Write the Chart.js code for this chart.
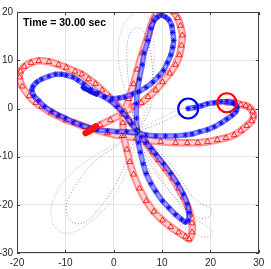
<!DOCTYPE html>
<html>
<head>
<meta charset="utf-8">
<script src="https://cdn.jsdelivr.net/npm/chart.js@4.4.0/dist/chart.umd.min.js"></script>
<style>
  html, body { margin: 0; padding: 0; background: #fff; }
  canvas { display: block; }
</style>
</head>
<body>
<canvas id="myChart" width="271" height="269"></canvas>
<script>
// axis ranges and ticks
const xTicks = [-20, -10, 0, 10, 20, 30];
const yTicks = [-30, -20, -10, 0, 10, 20];
const timeLabel = 'Time = 30.00 sec';

// blue body trail (x, y)
const blueTrail = [
  [-6.0, 4.2], [-4.8, 3.8], [-3.4, 3.2], [-1.8, 2.4], [-0.3, 2.0], [1.1, 2.2], [2.3, 2.4],
  [3.9, 3.0], [5.3, 3.6], [6.7, 4.4], [8.1, 5.5], [9.3, 6.7], [10.3, 7.9], [11.1, 9.5],
  [11.8, 11.1], [12.2, 12.7], [12.4, 14.1], [12.2, 15.8], [12.0, 17.2], [11.4, 18.4],
  [10.7, 19.0], [9.9, 19.4], [9.1, 19.0], [8.3, 18.2], [7.7, 16.6], [7.1, 14.1], [6.3, 11.5],
  [5.9, 9.1], [5.3, 6.1], [4.9, 3.4], [4.7, 1.0], [4.7, -2.0], [4.9, -4.6], [5.1, -7.1],
  [5.5, -9.1], [6.1, -11.5], [6.7, -13.5], [7.7, -15.6], [8.7, -17.2], [10.1, -19.2],
  [11.4, -20.6], [12.8, -22.0], [14.0, -23.0], [14.8, -23.6], [15.4, -23.2], [15.6, -21.6],
  [15.2, -19.8], [14.4, -17.8], [13.2, -15.6], [11.8, -13.5], [10.3, -11.5], [8.7, -9.5],
  [7.7, -8.3], [6.7, -7.1], [5.7, -5.9], [4.7, -4.4], [3.7, -3.2], [2.7, -1.8], [1.7, -0.6],
  [0.7, 0.4], [-0.7, 1.6], [-2.0, 2.4], [-3.4, 3.2], [-4.8, 4.0], [-6.2, 5.1], [-7.4, 5.9],
  [-8.4, 6.5], [-9.8, 6.9], [-10.8, 7.1], [-12.0, 7.1], [-13.4, 6.7], [-14.9, 6.1],
  [-15.9, 5.5], [-16.7, 4.6], [-16.9, 3.8], [-16.5, 2.6], [-15.5, 1.6], [-14.3, 0.4],
  [-12.8, -0.6], [-11.4, -1.4], [-10.0, -2.0], [-8.4, -2.8], [-6.8, -3.4], [-5.0, -4.0],
  [-3.4, -4.4], [-1.3, -4.6], [0.7, -4.8], [2.7, -4.8], [4.9, -5.1], [6.7, -5.5], [8.7, -5.7],
  [10.7, -5.7], [12.8, -5.7], [14.8, -5.5], [16.2, -5.3], [17.8, -4.8], [19.4, -4.4],
  [20.8, -3.8], [22.2, -3.0], [23.4, -2.2], [24.5, -1.4], [25.3, -0.6], [25.5, 0.2],
  [25.1, 1.0], [24.5, 1.2], [23.4, 1.4], [22.2, 1.4], [20.8, 1.2], [19.4, 1.0], [18.2, 0.6],
  [16.8, 0.2], [15.4, 0.0]
];

// red body trail
const redTrail = [
  [-5.4, -4.8], [-4.2, -4.2], [-2.8, -3.4], [-0.7, -2.4], [1.7, -1.2], [4.1, 0.4], [5.7, 1.2],
  [7.1, 2.4], [8.7, 3.8], [10.1, 5.5], [11.6, 7.3], [12.8, 9.1], [13.6, 11.1], [14.0, 13.1],
  [14.2, 15.2], [13.8, 17.2], [13.2, 18.8], [12.4, 20.0], [11.4, 20.8], [10.3, 20.8],
  [9.3, 20.2], [8.3, 18.8], [7.7, 17.2], [6.9, 14.5], [5.9, 11.5], [4.9, 8.1], [4.1, 5.1],
  [3.1, 2.0], [2.3, -0.6], [1.9, -3.0], [2.1, -5.7], [2.7, -8.5], [3.3, -11.1], [4.1, -13.7],
  [5.3, -16.6], [6.7, -19.2], [8.3, -21.4], [10.1, -23.2], [11.8, -24.6], [13.4, -25.7],
  [14.8, -26.6], [15.6, -27.1], [16.2, -25.7], [16.2, -23.8], [15.8, -22.0], [15.4, -20.6],
  [14.4, -18.4], [13.4, -16.6], [12.2, -14.5], [10.7, -12.5], [9.3, -10.7], [8.1, -9.1],
  [6.7, -7.1], [5.5, -5.5], [4.7, -4.4], [3.5, -2.8], [2.1, -1.2], [0.7, 0.8], [-0.9, 2.4],
  [-2.4, 3.8], [-3.8, 5.1], [-5.2, 6.1], [-6.6, 7.1], [-8.0, 7.7], [-9.8, 8.5], [-11.4, 9.1],
  [-13.4, 9.7], [-15.5, 9.9], [-17.1, 9.5], [-18.5, 8.7], [-19.3, 7.7], [-19.5, 6.5],
  [-18.9, 4.6], [-17.5, 2.6], [-16.1, 1.2], [-14.9, 0.4], [-13.0, -0.8], [-11.4, -1.6],
  [-9.8, -2.4], [-8.0, -3.0], [-6.0, -3.8], [-4.0, -4.4], [-1.3, -5.1], [1.7, -5.7],
  [4.7, -6.1], [6.7, -6.5], [9.7, -6.9], [12.8, -7.1], [15.2, -7.1], [17.4, -7.1],
  [19.4, -6.9], [21.4, -6.5], [23.2, -6.1], [24.9, -5.5], [26.3, -4.6], [27.5, -3.6],
  [28.5, -2.6], [28.9, -1.6], [28.7, -0.6], [28.1, 0.2], [27.3, 0.6], [26.3, 0.8],
  [24.9, 1.2], [23.4, 1.3]
];

// slow starting stretch of each trail
const blueStart = [[-6.4, 4.4], [-5.0, 3.6], [-3.6, 2.9]];
const redStart = [[-5.8, -5.1], [-4.7, -4.4], [-3.7, -3.7]];

// dotted paths
const redDotTop = [
  [4.9, -4.6], [3.9, -1.0], [2.9, 2.0], [1.9, 5.5], [1.1, 9.1], [0.9, 12.1], [1.3, 15.2],
  [2.3, 17.8], [3.7, 19.4], [5.1, 20.0], [6.3, 19.6], [7.3, 18.4], [7.9, 16.2], [8.3, 13.1],
  [8.3, 9.1], [7.9, 5.1], [7.1, 1.0], [6.1, -2.0], [5.3, -4.2]
];
const blueDotTop = [
  [4.7, -4.6], [3.9, -1.0], [3.3, 3.0], [2.9, 7.1], [2.7, 11.1], [2.9, 14.1], [3.7, 16.0],
  [4.9, 16.8], [6.1, 16.0], [7.1, 13.7], [7.7, 11.1], [8.1, 7.1], [8.1, 3.0], [7.3, -0.6],
  [6.1, -3.0], [5.1, -4.4]
];
const redDotLeft = [
  [4.9, -5.1], [1.7, -6.7], [-1.3, -8.3], [-5.0, -10.5], [-8.4, -13.1], [-11.0, -16.0],
  [-12.6, -19.2], [-13.0, -22.2], [-12.0, -24.8], [-9.8, -25.9], [-7.0, -25.1], [-4.0, -22.8],
  [-1.1, -19.8], [1.1, -16.4], [2.9, -12.3], [4.1, -8.7], [4.9, -5.5]
];
const blueDotLeft = [
  [4.9, -5.1], [2.7, -6.3], [0.1, -8.1], [-3.4, -10.5], [-6.2, -13.5], [-8.4, -16.8],
  [-9.8, -19.8], [-9.6, -22.2], [-8.2, -23.8], [-6.0, -23.6], [-3.4, -21.2], [-0.9, -18.0],
  [1.1, -14.3], [2.9, -10.1], [4.1, -7.1], [4.9, -5.3]
];
const redDotLow = [
  [5.3, -5.7], [6.7, -11.1], [8.7, -16.2], [11.1, -20.6], [13.8, -24.2], [16.8, -26.1],
  [19.2, -26.7], [20.4, -26.1], [19.8, -24.8], [17.8, -23.6], [15.2, -21.6], [12.4, -18.2],
  [9.3, -13.5], [6.7, -8.7], [5.5, -5.9]
];
const blueDotLow = [
  [5.3, -5.3], [8.1, -7.7], [11.4, -11.1], [14.2, -15.2], [16.2, -18.2], [18.4, -20.0],
  [20.0, -20.6], [20.2, -21.6], [19.4, -22.6], [17.8, -22.8], [15.8, -21.6], [13.4, -19.2],
  [10.7, -16.2], [8.3, -12.7], [6.5, -9.5], [5.3, -5.9]
];
const redDotRight = [[5.3, -4.2], [9.3, -2.2], [13.4, -0.2], [14.8, 0.2]];
const blueDotRight = [[5.3, -4.6], [9.7, -3.0], [13.8, -1.0]];

// current positions and centre
const blueNow = [[15.4, 0.0]];
const redNow = [[23.4, 1.2]];
const centre = [[5.0, -4.65]];

const pts = arr => arr.map(p => ({ x: p[0], y: p[1] }));

function dotted(arr, color) {
  return {
    data: pts(arr), showLine: true, borderColor: color, borderWidth: 1,
    borderDash: [1, 2], pointRadius: 0, tension: 0.35, fill: false
  };
}

function band(arr, color, width) {
  return {
    data: pts(arr), showLine: true, borderColor: color, borderWidth: width,
    pointRadius: 0, tension: 0.3, borderCapStyle: 'round', borderJoinStyle: 'round'
  };
}

const datasets = [
  { data: pts(blueNow), pointStyle: 'circle', pointRadius: 10, borderColor: '#0000ff',
    backgroundColor: 'rgba(0,0,0,0)', borderWidth: 2.2 },
  { data: pts(redNow), pointStyle: 'circle', pointRadius: 9.5, borderColor: '#ff0000',
    backgroundColor: 'rgba(0,0,0,0)', borderWidth: 2.2 },
  { data: pts(centre), pointStyle: 'crossRot', pointRadius: 2.5, borderColor: '#00a000',
    borderWidth: 1 },
  band(redStart, '#ff1010', 6.5),
  band(blueStart, '#1515e0', 4.5),
  { data: pts(blueTrail), showLine: false, pointStyle: 'star', pointRadius: 2.7,
    pointBorderColor: 'rgba(0,0,255,0.9)', pointBorderWidth: 1 },
  band(blueTrail, 'rgba(175,175,255,0.7)', 2),
  band(blueTrail, 'rgba(20,20,255,0.6)', 5.5),
  { data: pts(redTrail), showLine: false, pointStyle: 'triangle', pointRadius: 3.3,
    pointBorderColor: 'rgba(255,0,0,0.9)', pointBackgroundColor: 'rgba(0,0,0,0)',
    pointBorderWidth: 0.9 },
  band(redTrail, 'rgba(255,235,235,0.75)', 3.5),
  band(redTrail, 'rgba(255,30,30,0.5)', 7.5),
  dotted(blueDotTop, 'rgba(60,60,255,0.6)'),
  dotted(blueDotLeft, 'rgba(60,60,255,0.6)'),
  dotted(blueDotLow, 'rgba(60,60,255,0.6)'),
  dotted(blueDotRight, 'rgba(60,60,255,0.6)'),
  dotted(redDotTop, 'rgba(255,60,60,0.55)'),
  dotted(redDotLeft, 'rgba(255,60,60,0.55)'),
  dotted(redDotLow, 'rgba(255,60,60,0.55)'),
  dotted(redDotRight, 'rgba(255,60,60,0.55)')
];

// box, inward ticks and the time stamp
const frame = {
  id: 'frame',
  afterDraw(chart) {
    const { ctx, chartArea: a, scales } = chart;
    ctx.save();
    ctx.strokeStyle = '#404040';
    ctx.lineWidth = 1;
    ctx.beginPath();
    xTicks.forEach(v => {
      const px = Math.round(scales.x.getPixelForValue(v)) + 0.5;
      ctx.moveTo(px, a.bottom); ctx.lineTo(px, a.bottom - 3);
      ctx.moveTo(px, a.top); ctx.lineTo(px, a.top + 3);
    });
    yTicks.forEach(v => {
      const py = Math.round(scales.y.getPixelForValue(v)) + 0.5;
      ctx.moveTo(a.left, py); ctx.lineTo(a.left + 3, py);
      ctx.moveTo(a.right, py); ctx.lineTo(a.right - 3, py);
    });
    ctx.stroke();
    ctx.strokeRect(Math.round(a.left) + 0.5, Math.round(a.top) + 0.5,
      Math.round(a.right - a.left) - 1, Math.round(a.bottom - a.top) - 1);
    ctx.font = 'bold 10.5px "Liberation Sans", Arial, sans-serif';
    ctx.fillStyle = '#000';
    ctx.textBaseline = 'alphabetic';
    ctx.fillText(timeLabel, a.left + 6, a.top + 13.5);
    ctx.restore();
  }
};

const tickFont = { family: '"Liberation Sans", Arial, sans-serif', size: 10 };

new Chart(document.getElementById('myChart'), {
  type: 'scatter',
  data: { datasets },
  options: {
    responsive: false,
    animation: false,
    events: [],
    layout: { padding: { left: 0, top: 5, right: 6, bottom: 0 } },
    plugins: { legend: { display: false }, tooltip: { enabled: false } },
    scales: {
      x: {
        min: -20, max: 30,
        afterBuildTicks: s => { s.ticks = xTicks.map(v => ({ value: v })); },
        afterFit: s => { s.height = 16; },
        grid: { color: '#e6e6e6', drawTicks: false },
        border: { display: false },
        ticks: { font: tickFont, color: '#262626', padding: 4, maxRotation: 0 }
      },
      y: {
        min: -30, max: 20,
        afterBuildTicks: s => { s.ticks = yTicks.map(v => ({ value: v })); },
        afterFit: s => { s.width = 17; },
        grid: { color: '#e6e6e6', drawTicks: false },
        border: { display: false },
        ticks: { font: tickFont, color: '#262626', padding: 4 }
      }
    }
  },
  plugins: [frame]
});
</script>
</body>
</html>
